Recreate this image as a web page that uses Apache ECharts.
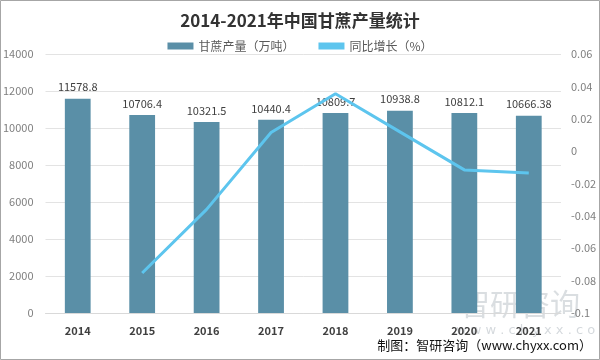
<!DOCTYPE html>
<html><head><meta charset="utf-8">
<script src="https://cdn.jsdelivr.net/npm/echarts@6/dist/echarts.min.js"></script>
<style>html,body{margin:0;padding:0;background:#fff}#c{width:600px;height:360px}</style>
</head><body><div id="c"></div>
<script>
const categories = ['2014','2015','2016','2017','2018','2019','2020','2021'];
const production = [11578.8, 10706.4, 10321.5, 10440.4, 10809.7, 10938.8, 10812.1, 10666.38];
const growth = [null, -0.0753, -0.0360, 0.0115, 0.0354, 0.0119, -0.0116, -0.0135];
const leftTicks = [0, 2000, 4000, 6000, 8000, 10000, 12000, 14000];
const rightTicks = [-0.1, -0.08, -0.06, -0.04, -0.02, 0, 0.02, 0.04, 0.06];

const chart = echarts.init(document.getElementById('c'));
const ff = '"Microsoft YaHei","Noto Sans CJK SC","DejaVu Sans",sans-serif';
chart.setOption({
  backgroundColor: '#fff',
  textStyle: {fontFamily: ff},
  title: {
    text: '2014-2021年中国甘蔗产量统计',
    left: 'center', top: 7,
    textStyle: {fontSize: 17, fontWeight: 'bold', color: '#333', fontFamily: '"Noto Sans CJK SC",sans-serif'}
  },
  legend: {
    top: 35, left: 'center', itemGap: 24, itemWidth: 26, itemHeight: 7,
    textStyle: {fontSize: 12, color: '#595959'},
    data: [
      {name: '甘蔗产量（万吨）', icon: 'rect'},
      {name: '同比增长（%）', icon: 'rect', itemStyle: {color: '#5DC5EE'}}
    ]
  },
  grid: {left: 44, right: 39, top: 54, bottom: 47, containLabel: false},
  graphic: [
    {type: 'rect', shape: {x: 0.5, y: 0.5, width: 599, height: 359}, style: {fill: 'none', stroke: '#a6a6a6', lineWidth: 1}, silent: true},
    {type: 'text', left: 460, top: 289, z: 0, style: {text: '智研咨询', font: '30px "Noto Sans CJK SC"', fill: 'rgba(150,160,170,0.35)'}},
    {type: 'text', left: 456, top: 324, z: 0, style: {text: 'w w w . c h y x x . c o m', font: '13px "DejaVu Sans"', fill: 'rgba(150,160,170,0.4)'}},
    {type: 'text', right: 8, top: 339, style: {text: '制图：智研咨询（www.chyxx.com）', font: '13px "Noto Sans CJK SC"', fill: '#111'}}
  ],
  xAxis: {
    type: 'category', data: categories,
    axisLine: {lineStyle: {color: '#d9d9d9'}}, axisTick: {show: false},
    axisLabel: {color: '#404040', fontSize: 11, fontWeight: 'bold', margin: 12}
  },
  yAxis: [
    {type: 'value', min: leftTicks[0], max: leftTicks[leftTicks.length-1], interval: 2000,
     axisLine: {show: false}, axisTick: {show: false},
     axisLabel: {color: '#7f7f7f', fontSize: 11, margin: 12, formatter: v => String(v)},
     splitLine: {lineStyle: {color: '#e3e3e3'}}},
    {type: 'value', min: rightTicks[0], max: rightTicks[rightTicks.length-1], interval: 0.02,
     axisLine: {show: false}, axisTick: {show: false},
     axisLabel: {color: '#7f7f7f', fontSize: 11, margin: 10,
       formatter: v => { const r = Math.round(v*100)/100; return r === 0 ? '0' : String(r); }},
     splitLine: {show: false}}
  ],
  series: [
    {name: '甘蔗产量（万吨）', type: 'bar', data: production, barWidth: '40%',
     itemStyle: {color: '#5A8FA7'},
     label: {show: true, position: 'top', distance: 6, color: '#404040', fontSize: 11}},
    {name: '同比增长（%）', type: 'line', yAxisIndex: 1, data: growth,
     symbol: 'none', lineStyle: {color: '#5DC5EE', width: 3}, itemStyle: {color: '#5DC5EE'}, z: 5}
  ]
});
</script></body></html>
